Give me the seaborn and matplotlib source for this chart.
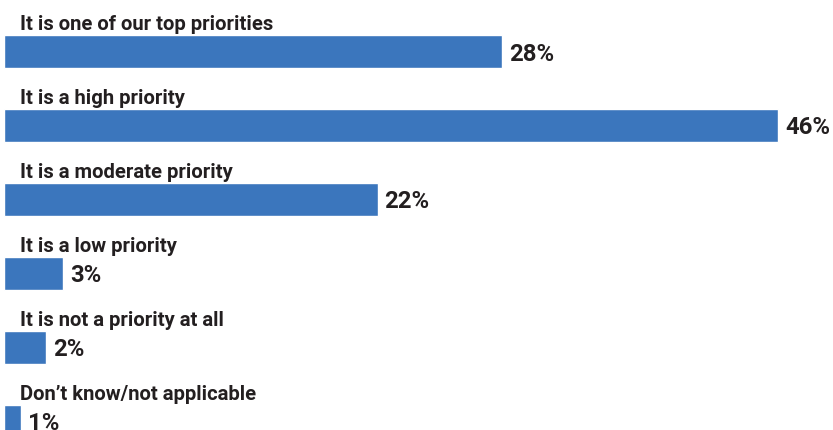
import pandas as pd
import seaborn as sns
import matplotlib.pyplot as plt

# answers, shown top to bottom
answers = ['It is one of our top priorities', 'It is a high priority',
           'It is a moderate priority', 'It is a low priority',
           'It is not a priority at all', 'Don\u2019t know/not applicable']
# bar lengths as drawn in the picture (percent)
shares = [29.6, 46.0, 22.2, 3.5, 2.5, 1.0]
# percentages as printed next to the bars
share_labels = ['28%', '46%', '22%', '3%', '2%', '1%']

df = pd.DataFrame({'answer': answers, 'share': shares})

sns.set_style('white')
plt.rcParams['font.family'] = ['Roboto', 'DejaVu Sans']

bar_color = '#3b76bd'
text_color = '#231f20'

fig = plt.figure(figsize=(8.33, 4.30), dpi=100)
ax = fig.add_axes([4 / 833, 0, 829 / 833, 1])
sns.barplot(data=df, x='share', y='answer', orient='h', color=bar_color,
            width=0.446, saturation=1, ax=ax)

ax.set_xlim(0, 46 * 829 / 774)
ax.set_ylim(5.115, -0.696)
ax.axis('off')

for i, (ans, lab, val) in enumerate(zip(answers, share_labels, shares)):
    # question text above the bar
    ax.annotate(ans, xy=(0, i - 0.223), xytext=(16, 5), textcoords='offset pixels',
                ha='left', va='baseline', fontsize=14.6, fontweight='bold',
                color=text_color)
    # value to the right of the bar
    ax.annotate(lab, xy=(val, i), xytext=(7, 0), textcoords='offset pixels',
                ha='left', va='center_baseline', fontsize=17.2, fontweight='bold',
                color=text_color, annotation_clip=False)

fig.savefig('out.png', dpi=100)
